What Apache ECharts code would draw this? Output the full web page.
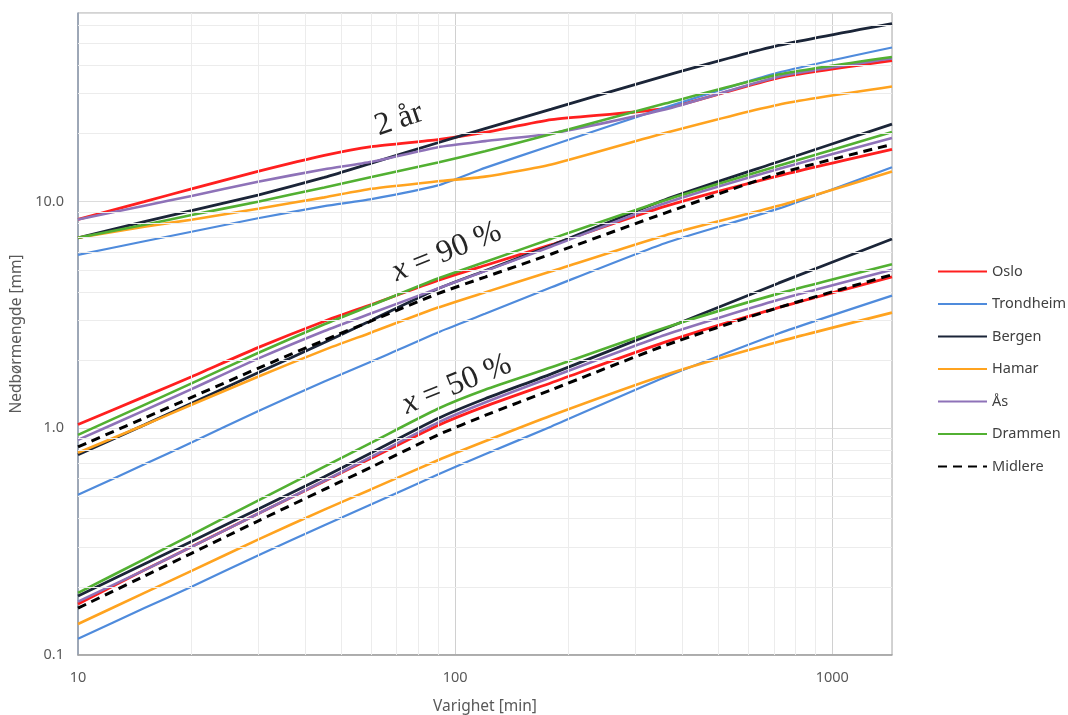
<!DOCTYPE html>
<html><head><meta charset="utf-8">
<script src="https://cdn.jsdelivr.net/npm/echarts@6/dist/echarts.min.js"></script>
<style>html,body{margin:0;padding:0;background:#fff}#c{width:1068px;height:715px}</style>
</head><body><div id="c"></div>
<script>
// Durations (min)
const durations = [10, 15, 20, 30, 45, 60, 90, 120, 180, 360, 720, 1440];

// 2 år
const oslo2   = [8.35, 10.0, 11.4, 13.6, 16.0, 17.5, 18.8, 20.2, 23.0, 25.8, 35.2, 41.9];
const trond2  = [5.83, 6.69, 7.37, 8.45, 9.56, 10.27, 11.8, 14.1, 17.7, 26.0, 37.1, 47.9];
const bergen2 = [6.93, 8.16, 9.13, 10.7, 12.8, 14.8, 18.2, 21.0, 25.6, 35.9, 48.9, 61.1];
const hamar2  = [6.93, 7.76, 8.33, 9.31, 10.45, 11.4, 12.3, 12.9, 14.6, 20.1, 26.8, 32.2];
const aas2    = [8.35, 9.60, 10.6, 12.25, 13.9, 15.0, 17.4, 18.5, 20.0, 25.5, 35.6, 42.8];
const dram2   = [6.93, 7.91, 8.73, 10.0, 11.56, 12.84, 14.9, 16.7, 19.9, 27.1, 36.4, 43.5];

// x = 90 %
const oslo90   = [1.04, 1.38, 1.69, 2.27, 2.97, 3.52, 4.49, 5.23, 6.46, 9.53, 13.0, 17.0];
const trond90  = [0.509, 0.694, 0.866, 1.19, 1.61, 1.97, 2.65, 3.20, 4.19, 6.56, 9.32, 14.2];
const bergen90 = [0.764, 1.036, 1.29, 1.76, 2.39, 3.00, 4.13, 4.96, 6.41, 10.2, 15.0, 22.0];
const hamar90  = [0.780, 1.035, 1.27, 1.69, 2.22, 2.65, 3.41, 3.98, 4.93, 7.10, 9.59, 13.6];
const aas90    = [0.889, 1.20, 1.49, 2.03, 2.69, 3.22, 4.14, 4.94, 6.34, 9.85, 13.95, 19.1];
const dram90   = [0.936, 1.27, 1.58, 2.15, 2.88, 3.49, 4.58, 5.42, 6.86, 10.15, 14.4, 20.3];
const mid90    = [0.828, 1.11, 1.37, 1.84, 2.45, 2.98, 3.93, 4.65, 5.88, 8.91, 13.3, 17.9];

// x = 50 %
const oslo50   = [0.168, 0.237, 0.300, 0.420, 0.585, 0.740, 1.03, 1.25, 1.59, 2.40, 3.41, 4.66];
const trond50  = [0.118, 0.161, 0.200, 0.275, 0.374, 0.462, 0.626, 0.768, 1.02, 1.68, 2.62, 3.85];
const bergen50 = [0.182, 0.252, 0.317, 0.440, 0.612, 0.781, 1.105, 1.35, 1.74, 2.75, 4.37, 6.85];
const hamar50  = [0.137, 0.188, 0.235, 0.323, 0.438, 0.539, 0.723, 0.877, 1.14, 1.72, 2.41, 3.24];
const aas50    = [0.172, 0.237, 0.300, 0.420, 0.587, 0.750, 1.06, 1.30, 1.68, 2.58, 3.69, 5.01];
const dram50   = [0.188, 0.265, 0.339, 0.480, 0.678, 0.865, 1.22, 1.48, 1.86, 2.78, 3.93, 5.30];
const mid50    = [0.161, 0.223, 0.281, 0.390, 0.538, 0.675, 0.935, 1.14, 1.48, 2.32, 3.41, 4.76];

const legendNames = ['Oslo', 'Trondheim', 'Bergen', 'Hamar', 'Ås', 'Drammen', 'Midlere'];
const annotations = [
  {text: '2 år', x: 71, y: 23.0, angle: 19},
  {text: '{i|x} = 90 %', x: 95, y: 6.0, angle: 22},
  {text: '{i|x} = 50 %', x: 101, y: 1.56, angle: 22}
];

const stations = [
  {name: 'Oslo', color: '#FF1F1F', width: 2.8, groups: [oslo2, oslo90, oslo50]},
  {name: 'Trondheim', color: '#4F8BDC', width: 2.2, groups: [trond2, trond90, trond50]},
  {name: 'Bergen', color: '#1B2538', width: 2.8, groups: [bergen2, bergen90, bergen50]},
  {name: 'Hamar', color: '#FFA31F', width: 2.6, groups: [hamar2, hamar90, hamar50]},
  {name: 'Ås', color: '#8E72B8', width: 2.6, groups: [aas2, aas90, aas50]},
  {name: 'Drammen', color: '#52B032', width: 2.6, groups: [dram2, dram90, dram50]},
  {name: 'Midlere', color: '#000000', width: 3, dash: [9, 6], groups: [mid90, mid50]}
];

const minorX = [], minorY = [];
[10, 100].forEach(b => { for (let m = 2; m <= 9; m++) minorX.push(b * m); });
[0.1, 1, 10].forEach(b => { for (let m = 2; m <= 9; m++) if (b * m < 68) minorY.push(+(b * m).toFixed(2)); });

const FONT = 'Noto Sans';
const isPow10 = v => { const l = Math.log10(v); return Math.abs(l - Math.round(l)) < 1e-6; };

const series = [{
  type: 'line', name: '_grid', data: [[10, 0.1]], symbol: 'none', silent: true, z: 1,
  lineStyle: {opacity: 0}, legendHoverLink: false, animation: false,
  markLine: {
    silent: true, symbol: ['none', 'none'], label: {show: false}, animation: false,
    lineStyle: {color: '#ececec', type: 'solid', width: 1},
    emphasis: {disabled: true},
    data: minorX.map(v => ({xAxis: v})).concat(minorY.map(v => ({yAxis: v})))
  }
}];
stations.forEach(s => {
  s.groups.forEach(arr => {
    series.push({
      type: 'line', name: s.name, z: s.name === 'Midlere' ? 5 : 3,
      data: durations.map((d, i) => [d, arr[i]]),
      symbol: 'none', showSymbol: false, smooth: 0.2, animation: false,
      lineStyle: {color: s.color, width: s.width, type: s.dash ? s.dash : 'solid'},
      itemStyle: {color: s.color}
    });
  });
});

const chart = echarts.init(document.getElementById('c'), null, {renderer: 'canvas'});
chart.setOption({
  animation: false,
  backgroundColor: '#ffffff',
  grid: {left: 78, right: 176, top: 13, bottom: 60, show: true, borderColor: '#a6a6a6', borderWidth: 1,
    containLabel: false, outerBoundsMode: 'none'},
  legend: {
    orient: 'vertical', left: 937, top: 264, padding: 0, itemWidth: 49, itemHeight: 14, itemGap: 17.5,
    data: legendNames, selectedMode: false,
    itemStyle: {opacity: 0},
    textStyle: {fontSize: 14.5, color: '#404040', fontFamily: FONT}
  },
  xAxis: {
    type: 'log', logBase: 10, min: 10, max: 1440,
    name: 'Varighet [min]', nameLocation: 'middle', nameGap: 44,
    nameTextStyle: {fontSize: 15.5, color: '#595959', fontFamily: FONT},
    axisLine: {show: true, lineStyle: {color: '#a0a0a0', width: 1.5}},
    axisTick: {show: false},
    axisLabel: {fontSize: 14.5, color: '#595959', fontFamily: FONT, margin: 15,
      formatter: v => isPow10(v) ? String(Math.round(v)) : '', showMaxLabel: false},
    splitLine: {show: true, lineStyle: {color: '#d0d0d0', width: 1}}
  },
  yAxis: {
    type: 'log', logBase: 10, min: 0.1, max: 68,
    name: 'Nedbørmengde [mm]', nameLocation: 'middle', nameGap: 50,
    nameTextStyle: {fontSize: 15.5, color: '#595959', fontFamily: FONT},
    axisLine: {show: true, lineStyle: {color: '#8d9aae', width: 1.5}},
    axisTick: {show: false},
    axisLabel: {fontSize: 14.5, color: '#595959', fontFamily: FONT, margin: 14,
      formatter: v => isPow10(v) ? Number(v).toFixed(1) : '', showMaxLabel: false},
    splitLine: {show: true, lineStyle: {color: '#dcdcdc', width: 1}}
  },
  series: series
});

const graphics = annotations.map(a => {
  const p = chart.convertToPixel({gridIndex: 0}, [a.x, a.y]);
  return {
    type: 'text', x: p[0], y: p[1], rotation: a.angle * Math.PI / 180, z: 10,
    style: {
      text: a.text, fill: '#262626', fontFamily: 'Liberation Serif', fontSize: 32,
      align: 'center', verticalAlign: 'middle',
      rich: {i: {fontStyle: 'italic', fontFamily: 'Liberation Serif', fontSize: 32, fill: '#262626'}}
    }
  };
});
chart.setOption({graphic: graphics});
</script></body></html>
